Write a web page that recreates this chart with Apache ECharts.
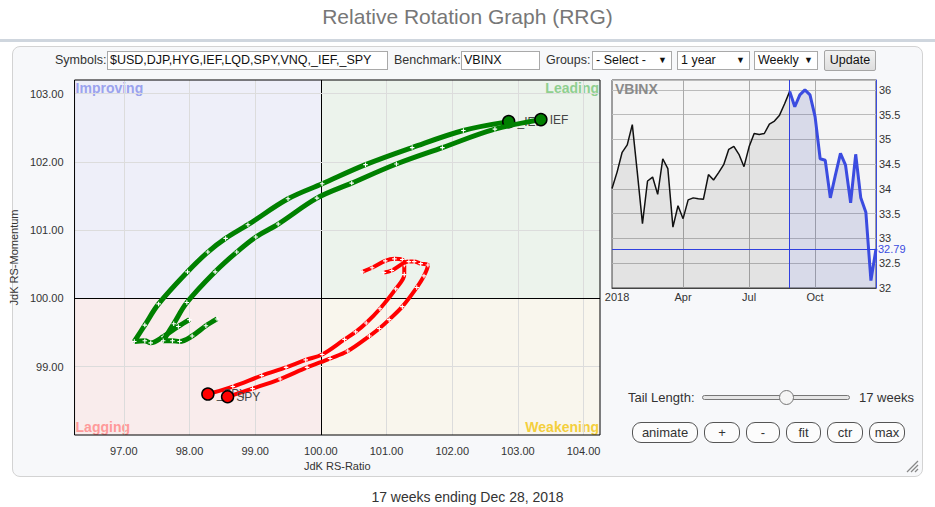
<!DOCTYPE html>
<html>
<head>
<meta charset="utf-8">
<script src="https://cdn.jsdelivr.net/npm/echarts@6/dist/echarts.min.js"></script>
<style>
html,body{margin:0;padding:0;width:935px;height:507px;overflow:hidden;background:#fff;font-family:Arial,"Liberation Sans",Helvetica,sans-serif;}
#title{position:absolute;left:0;top:5px;width:935px;text-align:center;font-size:21px;color:#777;z-index:3;}
#rule{position:absolute;left:0;top:39px;width:935px;height:3px;background:#cfd6de;z-index:3;}
#panel{position:absolute;left:12px;top:46px;width:909px;height:429px;border:1px solid #d3d3d3;border-radius:8px;background:#f7f8fa;z-index:0;}
#chart{position:absolute;left:0;top:0;width:935px;height:507px;z-index:1;}
.t{position:absolute;font-size:12.5px;color:#333;white-space:nowrap;z-index:3;line-height:15px;}
.box{position:absolute;height:19px;border:1px solid #a9a9a9;background:#fff;font-size:12.5px;line-height:17px;padding-left:2px;box-sizing:border-box;color:#111;white-space:nowrap;z-index:3;}
.sel{position:absolute;height:19px;border:1px solid #a9a9a9;background:#fff;font-size:12.5px;line-height:17px;padding-left:3px;box-sizing:border-box;color:#111;white-space:nowrap;z-index:3;}
.sel span{position:absolute;right:4px;top:0;font-size:9px;}
#upd{position:absolute;left:824px;top:50px;width:52px;height:21px;border:1px solid #a5a5a5;border-radius:2px;background:linear-gradient(#f2f2f2,#dedede);font-size:12.5px;line-height:19px;text-align:center;box-sizing:border-box;color:#111;z-index:3;}
.btn{position:absolute;top:422px;height:21px;border:1px solid #555;border-radius:9px;background:#fcfcfc;font-size:13px;line-height:19px;text-align:center;box-sizing:border-box;color:#333;z-index:3;}
#track{position:absolute;left:702px;top:395px;width:148px;height:5px;border:1px solid #777;border-radius:3px;background:#e6e6e6;box-sizing:border-box;z-index:3;}
#thumb{position:absolute;left:779px;top:390px;width:15px;height:15px;border:1px solid #777;border-radius:50%;background:#f5f5f5;box-sizing:border-box;z-index:4;}
#caption{position:absolute;left:0;top:489px;width:935px;text-align:center;font-size:14px;color:#333;z-index:3;}
#grip{position:absolute;left:905px;top:459px;z-index:3;}
</style>
</head>
<body>
<div id="title">Relative Rotation Graph (RRG)</div>
<div id="rule"></div>
<div id="panel"></div>
<div id="chart"></div>

<div class="t" style="left:55px;top:53px;">Symbols:</div>
<div class="box" style="left:107px;top:51px;width:281px;">$USD,DJP,HYG,IEF,LQD,SPY,VNQ,_IEF,_SPY</div>
<div class="t" style="left:394px;top:53px;">Benchmark:</div>
<div class="box" style="left:461px;top:51px;width:79px;">VBINX</div>
<div class="t" style="left:546px;top:53px;">Groups:</div>
<div class="sel" style="left:592px;top:51px;width:80px;">- Select -<span>&#9660;</span></div>
<div class="sel" style="left:677px;top:51px;width:73px;">1 year<span>&#9660;</span></div>
<div class="sel" style="left:754px;top:51px;width:64px;">Weekly<span>&#9660;</span></div>
<div id="upd">Update</div>

<div class="t" style="left:628px;top:390px;font-size:13px;">Tail Length:</div>
<div id="track"></div>
<div id="thumb"></div>
<div class="t" style="left:859px;top:390px;font-size:13px;">17 weeks</div>

<div class="btn" style="left:632px;width:66px;">animate</div>
<div class="btn" style="left:704px;width:36px;">+</div>
<div class="btn" style="left:746px;width:34px;">-</div>
<div class="btn" style="left:786px;width:35px;">fit</div>
<div class="btn" style="left:827px;width:36px;">ctr</div>
<div class="btn" style="left:869px;width:36px;">max</div>

<svg id="grip" width="14" height="14"><line x1="2" y1="13" x2="13" y2="2" stroke="#888" stroke-width="1.2"/><line x1="6" y1="13" x2="13" y2="6" stroke="#888" stroke-width="1.2"/><line x1="10" y1="13" x2="13" y2="10" stroke="#888" stroke-width="1.2"/></svg>

<div id="caption">17 weeks ending Dec 28, 2018</div>

<script>
// ---------------- RRG data (oldest -> newest, last point = head) ----------------
const ief_x  = [98.42, 98.25, 98.04, 97.85, 97.74, 97.60, 97.76, 97.96, 98.39, 98.72, 99.01, 99.35, 99.94, 100.47, 101.15, 101.85, 102.65, 103.35];
const ief_y  = [99.70, 99.60, 99.45, 99.37, 99.38, 99.38, 99.63, 99.94, 100.39, 100.68, 100.90, 101.09, 101.47, 101.69, 101.97, 102.21, 102.48, 102.62];
const _ief_x = [98.00, 97.83, 97.60, 97.41, 97.32, 97.16, 97.32, 97.53, 97.97, 98.28, 98.55, 98.89, 99.50, 100.02, 100.68, 101.39, 102.17, 102.86];
const _ief_y = [99.69, 99.59, 99.44, 99.35, 99.38, 99.37, 99.61, 99.92, 100.39, 100.68, 100.88, 101.08, 101.46, 101.68, 101.96, 102.21, 102.46, 102.59];
const spy_x  = [100.96, 101.08, 101.34, 101.42, 101.52, 101.63, 101.57, 101.46, 101.24, 101.04, 100.89, 100.74, 100.41, 100.14, 99.79, 99.38, 98.96, 98.58];
const spy_y  = [100.38, 100.41, 100.54, 100.54, 100.51, 100.49, 100.33, 100.16, 99.88, 99.69, 99.56, 99.45, 99.23, 99.12, 98.99, 98.82, 98.68, 98.56];
const _spy_x = [100.63, 100.78, 100.98, 101.12, 101.24, 101.27, 101.27, 101.14, 100.90, 100.69, 100.53, 100.36, 100.02, 99.77, 99.47, 99.10, 98.66, 98.28];
const _spy_y = [100.39, 100.45, 100.55, 100.58, 100.57, 100.49, 100.35, 100.14, 99.85, 99.64, 99.51, 99.40, 99.18, 99.10, 98.99, 98.87, 98.71, 98.60];

const xTicks = [97, 98, 99, 100, 101, 102, 103, 104];
const yTicks = [99, 100, 101, 102, 103];
const X_MIN = 96.25, X_MAX = 104.25, Y_MIN = 98, Y_MAX = 103.2;

// ---------------- VBINX weekly closes, Dec 29 2017 .. Dec 28 2018 ----------------
const vbinx = [34.01, 34.34, 34.74, 34.89, 35.30, 34.32, 33.30, 34.16, 34.24, 33.89, 34.61, 34.41, 33.23, 33.66, 33.40,
               33.78, 33.82, 33.80, 33.79, 34.29, 34.18, 34.33, 34.49, 34.80, 34.86, 34.70, 34.45, 34.85, 35.12, 35.10,
               35.12, 35.31, 35.37, 35.49, 35.72, 35.97, 35.66, 35.90, 36.00, 35.90, 35.46, 34.61, 34.58, 33.82, 34.28,
               34.72, 34.48, 33.72, 34.70, 33.82, 33.53, 32.15, 32.79];
const monthTickIdx = [1, 14, 27, 40];
const monthTickLabels = ['2018', 'Apr', 'Jul', 'Oct'];
const monthGridIdx = [14, 27, 40];
const tailLength = 17;

const weeks = [];
{
  const d0 = new Date(Date.UTC(2017, 11, 29));
  for (let i = 0; i < vbinx.length; i++) {
    const d = new Date(d0.getTime() + i * 7 * 86400000);
    weeks.push(d.toISOString().slice(0, 10));
  }
}
const tailStart = vbinx.length - 1 - tailLength;
const lastVal = vbinx[vbinx.length - 1];

const quadrants = [
  {name: 'Improving', x0: X_MIN, x1: 100, y0: 100, y1: Y_MAX, bg: '#eeeff9', fg: '#9aa2ee', pos: 'insideTopLeft'},
  {name: 'Leading',   x0: 100, x1: X_MAX, y0: 100, y1: Y_MAX, bg: '#ecf3ec', fg: '#8fcf8f', pos: 'insideTopRight'},
  {name: 'Lagging',   x0: X_MIN, x1: 100, y0: Y_MIN, y1: 100, bg: '#f9ecec', fg: '#ff9a9a', pos: 'insideBottomLeft'},
  {name: 'Weakening', x0: 100, x1: X_MAX, y0: Y_MIN, y1: 100, bg: '#f9f6ed', fg: '#f4cf3c', pos: 'insideBottomRight'}
];

const plus = 'path://M3,0h2v3h3v2h-3v3h-2v-3h-3v-2h3z';
function tail(name, xs, ys, color, width, z) {
  const data = xs.map((x, i) => [x, ys[i]]);
  const last = data.length - 1;
  data[last] = {
    value: data[last], symbol: 'circle', symbolSize: 12,
    itemStyle: {color: color, borderColor: '#000', borderWidth: 1.5},
    label: {show: true, position: 'right', distance: 2, formatter: name, color: '#444', fontSize: 12}
  };
  return {
    type: 'line', name: name, xAxisIndex: 0, yAxisIndex: 0, data: data, z: z,
    smooth: 0.35, symbol: plus, symbolSize: 4.5, showSymbol: true,
    itemStyle: {color: '#fff'}, lineStyle: {color: color, width: width},
    emphasis: {disabled: true}, silent: true
  };
}

const green = '#008000', red = '#ff0000';
const s1 = tail('_IEF', _ief_x, _ief_y, green, 5, 10);
const s2 = tail('IEF', ief_x, ief_y, green, 5, 11);
const s3 = tail('_SPY', _spy_x, _spy_y, red, 4, 12);
const s4 = tail('SPY', spy_x, spy_y, red, 4, 13);

s1.markArea = {
  z: 0, silent: true,
  data: quadrants.map(q => [
    {name: q.name, xAxis: q.x0, yAxis: q.y0, itemStyle: {color: q.bg},
     label: {show: true, position: q.pos, distance: 1, color: q.fg, fontSize: 14, fontWeight: 'bold'}},
    {xAxis: q.x1, yAxis: q.y1}
  ])
};
s1.markLine = {
  z: 1, silent: true, symbol: 'none', label: {show: false},
  data: [
    ...xTicks.map(v => ({xAxis: v, lineStyle: {color: v === 100 ? '#000' : '#dcdcdc', width: 1, type: 'solid'}})),
    ...yTicks.map(v => ({yAxis: v, lineStyle: {color: v === 100 ? '#000' : '#dcdcdc', width: 1, type: 'solid'}}))
  ]
};

const isInt = v => Math.abs(v - Math.round(v)) < 1e-6;

const option = {
  backgroundColor: 'transparent',
  animation: false,
  textStyle: {fontFamily: 'Arial, "Liberation Sans", Helvetica, sans-serif'},
  title: {text: 'VBINX', left: 613, top: 80, padding: 2,
          textStyle: {color: '#8a8a8a', fontSize: 14, fontWeight: 'bold'}},
  grid: [
    {left: 71, top: 80, width: 529, height: 355, show: true, z: 20,
     backgroundColor: 'transparent', borderColor: '#000', borderWidth: 1, containLabel: false},
    {left: 612, top: 80, width: 264, height: 208, show: true,
     backgroundColor: '#f5f5f5', borderColor: '#444', borderWidth: 1, containLabel: false}
  ],
  xAxis: [
    {type: 'value', gridIndex: 0, min: X_MIN, max: X_MAX, interval: 0.25,
     axisLine: {show: false}, axisTick: {show: false}, splitLine: {show: false},
     axisLabel: {color: '#333', fontSize: 11, margin: 10,
                 formatter: v => (isInt(v) && xTicks.indexOf(Math.round(v)) >= 0) ? Math.round(v).toFixed(2) : ''},
     name: 'JdK RS-Ratio', nameLocation: 'middle', nameGap: 22,
     nameTextStyle: {color: '#333', fontSize: 11}},
    {type: 'category', gridIndex: 1, data: weeks, boundaryGap: false,
     axisLine: {show: true, lineStyle: {color: '#444'}}, axisTick: {show: false},
     axisLabel: {color: '#333', fontSize: 11, margin: 3,
                 interval: (i) => monthTickIdx.indexOf(i) >= 0,
                 formatter: (val, i) => { const k = monthTickIdx.indexOf(i); return k >= 0 ? monthTickLabels[k] : ''; }},
     splitLine: {show: true, interval: (i) => monthGridIdx.indexOf(i) >= 0, lineStyle: {color: '#aaa', width: 1}}}
  ],
  yAxis: [
    {type: 'value', gridIndex: 0, min: Y_MIN, max: Y_MAX, interval: 1,
     axisLine: {show: false}, axisTick: {show: false}, splitLine: {show: false},
     axisLabel: {color: '#333', fontSize: 11, margin: 11,
                 formatter: v => (isInt(v) && yTicks.indexOf(Math.round(v)) >= 0) ? Math.round(v).toFixed(2) : ''},
     name: 'JdK RS-Momentum', nameLocation: 'middle', nameGap: 43,
     nameTextStyle: {color: '#333', fontSize: 11}},
    {type: 'value', gridIndex: 1, position: 'right', min: 32, max: 36.2, interval: 0.5,
     axisLine: {show: true, lineStyle: {color: '#3b4ce0', width: 1}}, axisTick: {show: false},
     axisLabel: {color: '#333', fontSize: 11, margin: 3,
                 formatter: v => (Math.abs(v * 2 - Math.round(v * 2)) < 1e-6 && v <= 36) ? String(v) : ''},
     splitLine: {show: true, lineStyle: {color: '#bbb', width: 1}}}
  ],
  series: [
    s1, s2, s3, s4,
    {type: 'line', xAxisIndex: 1, yAxisIndex: 1, silent: true, z: 3,
     data: vbinx.map((v, i) => i <= tailStart ? v : null),
     symbol: 'none', lineStyle: {color: '#111', width: 1.5},
     areaStyle: {color: 'rgba(0,0,0,0.10)'}},
    {type: 'line', xAxisIndex: 1, yAxisIndex: 1, silent: true, z: 4,
     data: vbinx.map((v, i) => i >= tailStart ? v : null),
     symbol: 'none', lineStyle: {color: '#3b4ce0', width: 3},
     areaStyle: {color: 'rgba(60,70,170,0.22)'},
     markLine: {
       silent: true, symbol: 'none', z: 5,
       lineStyle: {color: '#3040e0', width: 1, type: 'solid'},
       data: [
         {xAxis: weeks[tailStart], label: {show: false}},
         {yAxis: lastVal, label: {show: true, position: 'end', distance: 2,
                                  formatter: lastVal.toFixed(2), color: '#3b4ce0', fontSize: 11}}
       ]
     }}
  ]
};

const chart = echarts.init(document.getElementById('chart'), null, {renderer: 'svg', width: 935, height: 507});
chart.setOption(option);
</script>
</body>
</html>
